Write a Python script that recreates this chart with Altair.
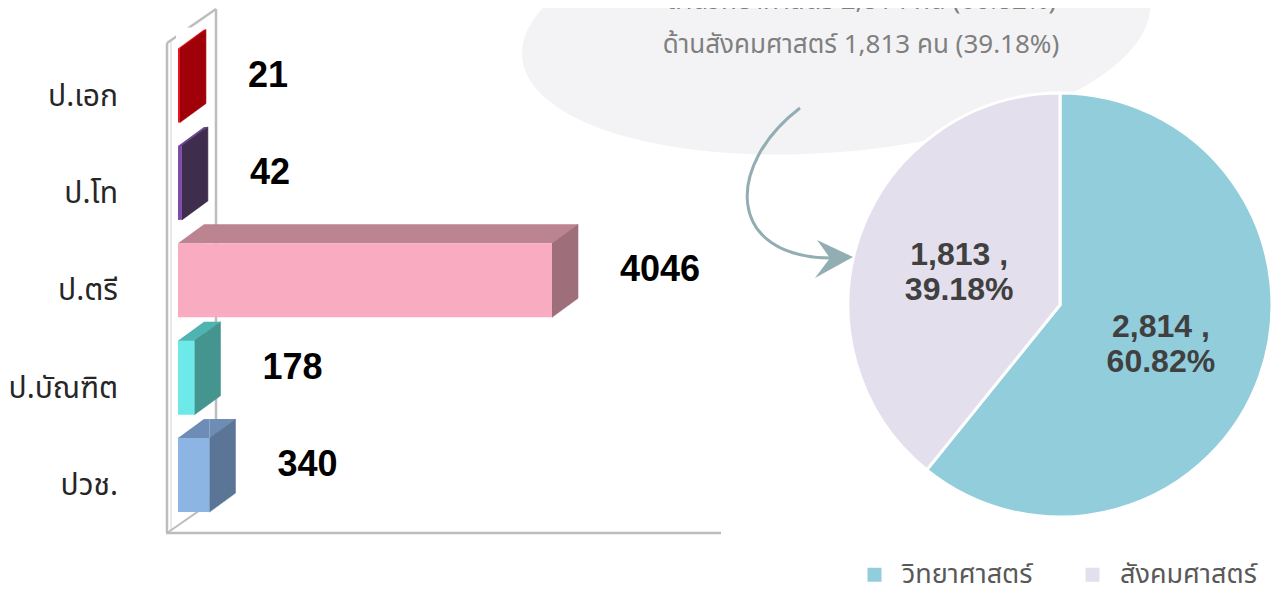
import altair as alt
import pandas as pd

# ---------------- data ----------------
categories = ["ป.เอก", "ป.โท", "ป.ตรี", "ป.บัณฑิต", "ปวช."]
counts = [21, 42, 4046, 178, 340]
front_colors = ["#e8121c", "#7c4ca8", "#f9abc2", "#6ee9e9", "#8db5e4"]
top_colors = ["#f02a2a", "#6c4694", "#bc8391", "#4fb4b1", "#6d8db6"]
side_colors = ["#a00008", "#3e2d4d", "#9e6f7b", "#44948f", "#5b7596"]

fields = ["วิทยาศาสตร์", "สังคมศาสตร์"]
field_counts = [2814, 1813]
field_pcts = [60.82, 39.18]
field_colors = ["#92cddc", "#e4dfec"]

note_lines = ["ด้านวิทยาศาสตร์ 2,814 คน (60.82%)", "ด้านสังคมศาสตร์ 1,813 คน (39.18%)"]

bars = pd.DataFrame({
    "cat": categories, "value": counts,
    "front": front_colors, "top": top_colors, "side": side_colors,
})
pie = pd.DataFrame({
    "field": fields, "n": field_counts, "pct": field_pcts,
    "ord": list(range(len(fields))),
    "label": [f"{n:,} ,\n{p:.2f}%" for n, p in zip(field_counts, field_pcts)],
})
one = pd.DataFrame({"a": [1]})

THAI = "Noto Sans Thai, Noto Sans, sans-serif"
BOLD = "Liberation Sans"

# ---------------- scales ----------------
XSCALE = alt.Scale(domain=[0, 6000], range=[170, 724.6], nice=False, zero=True)
X = alt.X("value:Q", axis=None, stack=None, scale=XSCALE)
X0 = alt.X("zero:Q", axis=None, stack=None, scale=XSCALE)
Y = alt.Y("cat:N", axis=None, sort=categories,
          scale=alt.Scale(domain=categories, range=[28.8, 515.8], paddingInner=0, paddingOuter=0))

# custom shapes (1 unit = 50 px at size 10000)
SIDE = "M0,-0.74L0.52,-1.12L0.52,0.36L0,0.74Z"
RTRI = "M0,-0.74L0.52,-1.12L0,-1.12Z"
LTRI = "M0,-0.74L0.52,-1.12L0.52,-0.74Z"
MASK = "M-0.04,-0.74L-0.04,-1.16L0.52,-1.16L0.52,-1.12L0,-0.74Z"

k = 0.5523
r = 0.387
ELLIPSE = (f"M-1,0C-1,{-k*r:.4f},{-k:.4f},{-r},0,{-r}C{k:.4f},{-r},1,{-k*r:.4f},1,0"
           f"C1,{k*r:.4f},{k:.4f},{r},0,{r}C{-k:.4f},{r},-1,{k*r:.4f},-1,0Z")
CURVE = "M0.2,-1.64C-1.3,-0.5,-1.3,1.36,0.84,1.36"
HEAD = "M1.26,1.34L0.54,1.0L0.8,1.36L0.5,1.76Z"


def seg(x1, y1, x2, y2, color="#bdbdbd", w=2.5):
    return alt.Chart(one).mark_rule(color=color, strokeWidth=w).encode(
        x=alt.value(x1), y=alt.value(y1), x2=alt.value(x2), y2=alt.value(y2))


# ---------------- bubble ----------------
bubble = alt.Chart(one).mark_point(
    shape=ELLIPSE, size=396900, filled=True, fill="#f3f3f5", opacity=1,
    angle=355, strokeWidth=0
).encode(x=alt.value(828), y=alt.value(22))

note_layers = [
    alt.Chart(one).mark_text(
        font=THAI, fontSize=26, color="#7f7f7f", align="center", baseline="middle",
        text=line
    ).encode(x=alt.value(853), y=alt.value(yy))
    for line, yy in zip(note_lines, [-7, 37])
]

# ---------------- walls ----------------
walls = [
    seg(159, 35, 159, 525),
    seg(163, 33, 163, 523, "#e2e2e2", 1.5),
    seg(159, 35, 208, 1),
    seg(208, 1, 208, 493),
    seg(158, 525, 713, 525),
    seg(159, 525, 208, 491, "#bdbdbd", 2),
]

# ---------------- 3D bars ----------------
base = alt.Chart(bars).transform_calculate(zero="0")
top_strip = base.mark_bar(size=19, yOffset=-46.5).encode(
    x=X, y=Y, fill=alt.Fill("top:N", scale=None))
ltri = base.mark_point(shape=LTRI, size=10000, filled=True, opacity=1, strokeWidth=0).encode(
    x=X0, y=Y, fill=alt.Fill("top:N", scale=None))
rtri = base.mark_point(shape=RTRI, size=10000, filled=True, opacity=1, strokeWidth=0).encode(
    x=X, y=Y, fill=alt.Fill("top:N", scale=None))
mask = base.mark_point(shape=MASK, size=10000, filled=True, opacity=1, strokeWidth=0,
                       fill="white").encode(x=X0, y=Y)
side = base.mark_point(shape=SIDE, size=10000, filled=True, opacity=1, strokeWidth=0.6).encode(
    x=X, y=Y, fill=alt.Fill("side:N", scale=None), stroke=alt.Stroke("side:N", scale=None))
front = base.mark_bar(size=74).encode(
    x=X, y=Y, fill=alt.Fill("front:N", scale=None))

value_labels = base.mark_text(
    align="left", baseline="middle", dx=68, dy=-10,
    font=BOLD, fontWeight="bold", fontSize=36, color="#000000"
).encode(x=X, y=Y, text="value:Q")

cat_labels = base.mark_text(
    align="right", baseline="middle", dy=11, font=THAI, fontSize=30, color="#262626"
).encode(x=alt.value(110), y=Y, text="cat:N")

# ---------------- pie ----------------
pie_base = alt.Chart(pie).encode(
    theta=alt.Theta("n:Q", stack=True),
    order=alt.Order("ord:Q"),
    x=alt.value(1052), y=alt.value(297),
)
arcs = pie_base.mark_arc(radius=212, stroke="white", strokeWidth=3).encode(
    color=alt.Color(
        "field:N",
        scale=alt.Scale(domain=fields, range=field_colors),
        legend=alt.Legend(
            orient="none", legendX=853, legendY=553, direction="horizontal",
            title=None, symbolType="square", symbolSize=196, symbolStrokeWidth=0,
            labelFont=THAI, labelFontSize=27, labelColor="#595959",
            labelOffset=14, columnPadding=46, padding=0,
        ),
    )
)
pie_text = pie_base.mark_text(
    radius=107, font=BOLD, fontWeight="bold", fontSize=32, color="#404040",
    lineBreak="\n", lineHeight=35, align="center", baseline="middle", dy=-14
).encode(text="label:N")

# ---------------- arrow ----------------
curve = alt.Chart(one).mark_point(
    shape=CURVE, size=10000, filled=False, stroke="#93aeb3", strokeWidth=3, opacity=1
).encode(x=alt.value(782), y=alt.value(182))
head = alt.Chart(one).mark_point(
    shape=HEAD, size=10000, filled=True, fill="#93aeb3", opacity=1, strokeWidth=0
).encode(x=alt.value(782), y=alt.value(182))

chart = alt.layer(
    bubble, *note_layers, *walls,
    top_strip, ltri, rtri, mask, side, front,
    value_labels, cat_labels,
    arcs, pie_text, curve, head,
).properties(
    width=1264, height=578, padding=0,
    autosize=alt.AutoSizeParams(type="none"),
).configure_view(stroke=None)

chart.save("out.html", embed_options={"renderer": "svg", "actions": False})
